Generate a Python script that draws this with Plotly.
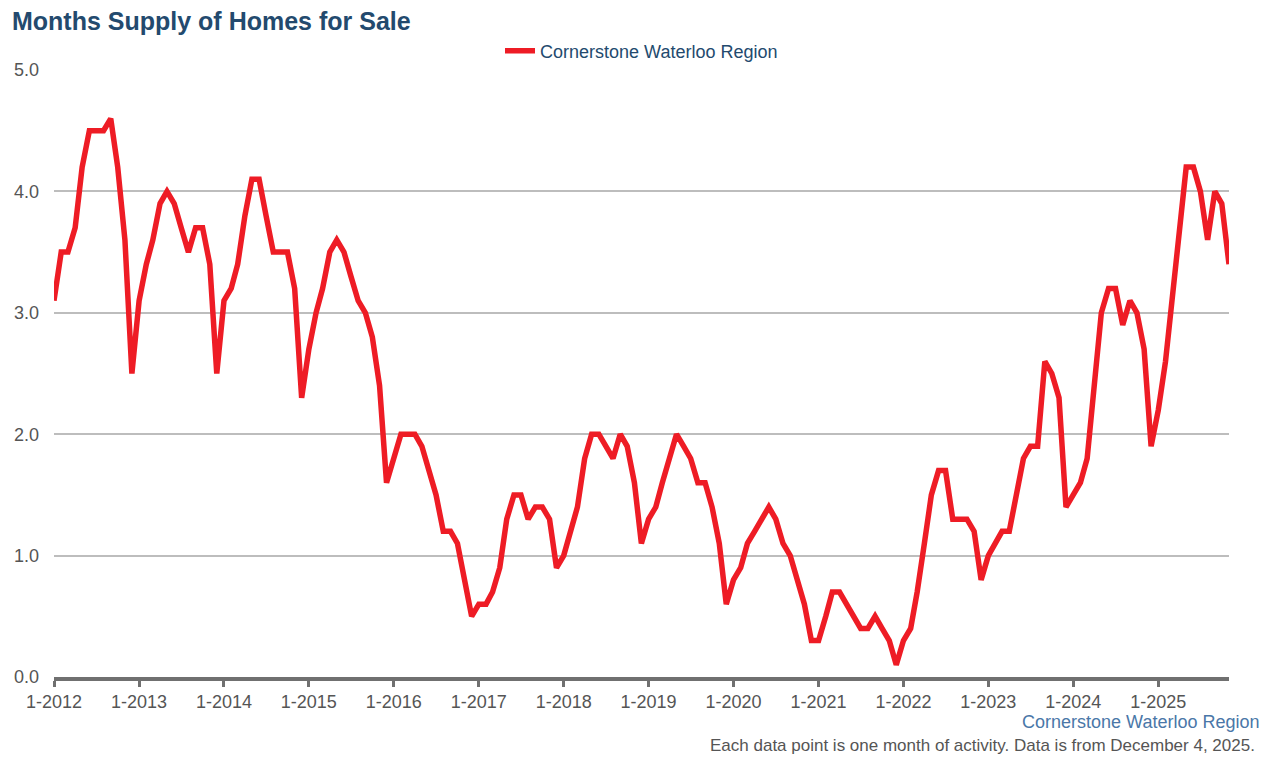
import plotly.graph_objects as go
import pandas as pd

start_month = "2012-01-01"
supply = [
    # 2012
    3.1, 3.5, 3.5, 3.7, 4.2, 4.5, 4.5, 4.5, 4.6, 4.2, 3.6, 2.5,
    # 2013
    3.1, 3.4, 3.6, 3.9, 4.0, 3.9, 3.7, 3.5, 3.7, 3.7, 3.4, 2.5,
    # 2014
    3.1, 3.2, 3.4, 3.8, 4.1, 4.1, 3.8, 3.5, 3.5, 3.5, 3.2, 2.3,
    # 2015
    2.7, 3.0, 3.2, 3.5, 3.6, 3.5, 3.3, 3.1, 3.0, 2.8, 2.4, 1.6,
    # 2016
    1.8, 2.0, 2.0, 2.0, 1.9, 1.7, 1.5, 1.2, 1.2, 1.1, 0.8, 0.5,
    # 2017
    0.6, 0.6, 0.7, 0.9, 1.3, 1.5, 1.5, 1.3, 1.4, 1.4, 1.3, 0.9,
    # 2018
    1.0, 1.2, 1.4, 1.8, 2.0, 2.0, 1.9, 1.8, 2.0, 1.9, 1.6, 1.1,
    # 2019
    1.3, 1.4, 1.6, 1.8, 2.0, 1.9, 1.8, 1.6, 1.6, 1.4, 1.1, 0.6,
    # 2020
    0.8, 0.9, 1.1, 1.2, 1.3, 1.4, 1.3, 1.1, 1.0, 0.8, 0.6, 0.3,
    # 2021
    0.3, 0.5, 0.7, 0.7, 0.6, 0.5, 0.4, 0.4, 0.5, 0.4, 0.3, 0.1,
    # 2022
    0.3, 0.4, 0.7, 1.1, 1.5, 1.7, 1.7, 1.3, 1.3, 1.3, 1.2, 0.8,
    # 2023
    1.0, 1.1, 1.2, 1.2, 1.5, 1.8, 1.9, 1.9, 2.6, 2.5, 2.3, 1.4,
    # 2024
    1.5, 1.6, 1.8, 2.4, 3.0, 3.2, 3.2, 2.9, 3.1, 3.0, 2.7, 1.9,
    # 2025
    2.2, 2.6, 3.1, 3.6, 4.2, 4.2, 4.0, 3.6, 4.0, 3.9, 3.4,
]
years = list(range(2012, 2026))
tick_labels = [f"1-{y}" for y in years]
y_ticks = [0, 1, 2, 3, 4, 5]
y_tick_labels = ["0.0", "1.0", "2.0", "3.0", "4.0", "5.0"]
series_name = "Cornerstone Waterloo Region"

months = pd.date_range(start_month, periods=len(supply), freq="MS")
tick_vals = [pd.Timestamp(f"{y}-01-01") for y in years]

# the page places the figure 8px from the top-left corner (body margin)
OFF = 8
W, H = 1267, 757
PL, PR, PT, PB = 54 - OFF, 1229 - OFF, 70 - OFF, 677 - OFF
plot_w, plot_h = PR - PL, PB - PT

fig = go.Figure()
fig.add_trace(go.Scatter(
    x=months, y=supply, mode="lines", name=series_name,
    line=dict(color="#ee1c25", width=5.5),
    hovertemplate="%{x|%-m-%Y}: %{y:.1f}<extra></extra>",
))

fig.update_layout(
    width=W, height=H,
    paper_bgcolor="white", plot_bgcolor="white",
    margin=dict(l=PL, r=W - PR, t=PT, b=H - PB, autoexpand=False),
    font=dict(family="Liberation Sans, Arial, sans-serif", color="#555555", size=18),
    title=dict(
        text="<b>Months Supply of Homes for Sale</b>",
        x=(12 - OFF) / W, xref="container", xanchor="left",
        y=1 - (21 - OFF) / H, yref="container", yanchor="middle",
        font=dict(size=25, color="#234a6e", family="Liberation Sans, Arial, sans-serif"),
    ),
    showlegend=True,
    legend=dict(
        orientation="h", x=0.5, xanchor="center",
        y=(PB - (51 - OFF)) / plot_h, yanchor="middle",
        font=dict(size=18, color="#234a6e"), bgcolor="rgba(0,0,0,0)",
    ),
    xaxis=dict(
        range=[months[0], months[-1]],
        tickvals=tick_vals, ticktext=tick_labels,
        showgrid=False, zeroline=False, automargin=False,
        showline=True, linecolor="#707070", linewidth=3.5,
        ticks="outside", ticklen=6, tickwidth=2.5, tickcolor="#707070",
        tickfont=dict(size=18, color="#555555"),
    ),
    yaxis=dict(
        range=[0, 5], tickvals=y_ticks, ticktext=y_tick_labels,
        showgrid=True, gridcolor="#bdbdbd", gridwidth=1.5,
        zeroline=False, showline=False, automargin=False,
        ticks="", ticklabelstandoff=14,
        tickfont=dict(size=18, color="#555555"),
    ),
    annotations=[
        dict(text="Cornerstone Waterloo Region", xref="paper", yref="paper",
             x=(1261 - 54) / plot_w, y=-(722 - 677) / plot_h, xanchor="right", yanchor="middle",
             showarrow=False, font=dict(size=18, color="#4a77a8")),
        dict(text="Each data point is one month of activity. Data is from December 4, 2025.",
             xref="paper", yref="paper",
             x=(1257 - 54) / plot_w, y=-(745 - 677) / plot_h, xanchor="right", yanchor="middle",
             showarrow=False, font=dict(size=17, color="#555555")),
    ],
)

fig.write_html("out.html")
